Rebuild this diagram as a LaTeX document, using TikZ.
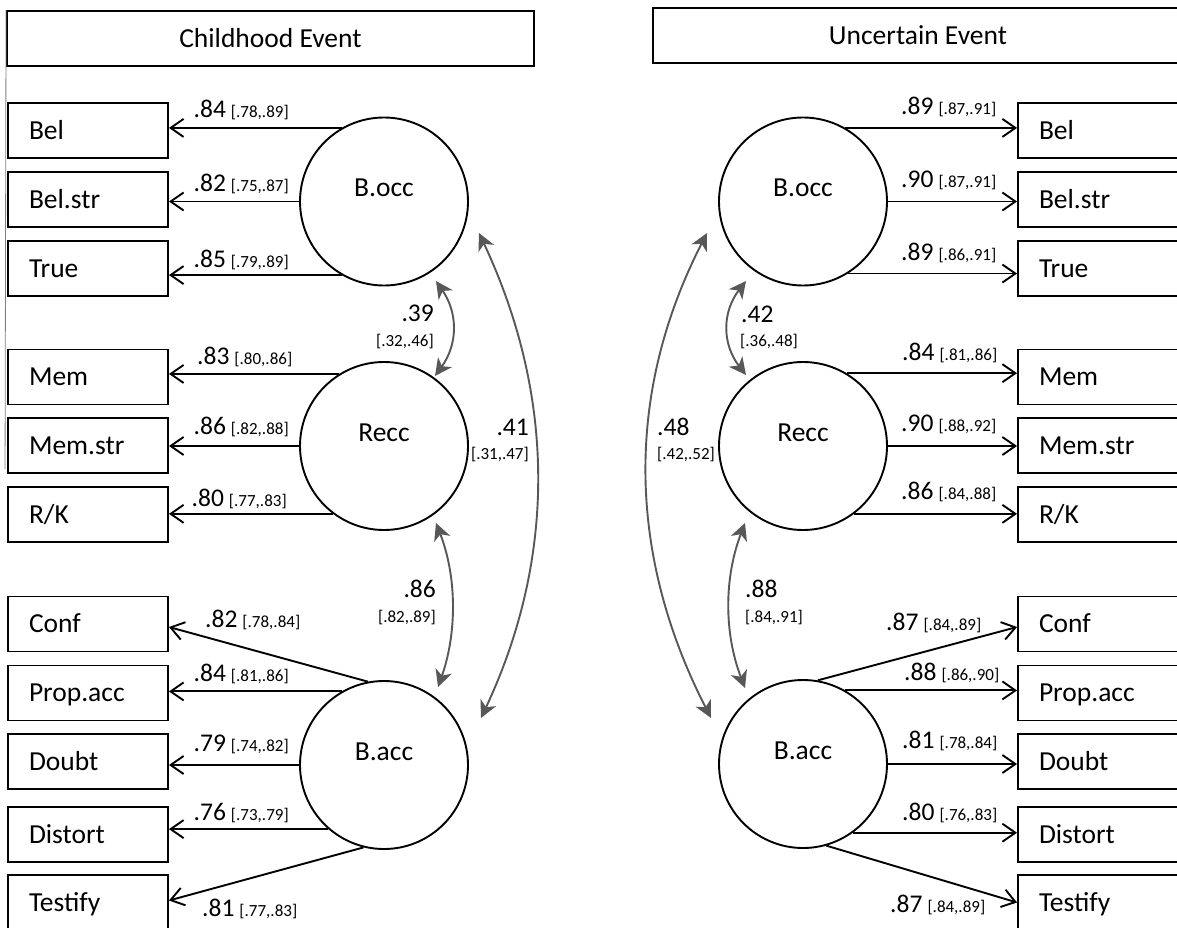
\documentclass[tikz,border=0pt]{standalone}
\usepackage{fontspec}
\setmainfont{Carlito}
\usetikzlibrary{arrows.meta,calc}
\newcommand{\loadlab}[2]{{\fontsize{25.5}{29}\selectfont #1}\hspace{5pt}{\fontsize{17}{20}\selectfont #2}}
\newcommand{\corrval}[1]{{\fontsize{25.5}{29}\selectfont #1}}
\newcommand{\corrci}[1]{{\fontsize{17}{20}\selectfont #1}}
\definecolor{corrgray}{RGB}{88,88,88}
\tikzset{
  obsbox/.style={draw, line width=1.9pt, minimum width=160pt, minimum height=55pt,
    inner xsep=21pt, inner ysep=0pt, text width=118pt, align=left,
    text height=17.5pt, text depth=0pt, font=\fontsize{27.5}{31}\selectfont},
  titlebox/.style={draw, line width=1.9pt, minimum height=55pt, inner sep=0pt,
    text height=17.5pt, text depth=0pt, font=\fontsize{27.5}{31}\selectfont},
  latent/.style={draw, circle, line width=1.9pt, minimum size=168pt, inner sep=0pt,
    text height=18pt, text depth=28pt, font=\fontsize{27.5}{31}\selectfont},
  load/.style={line width=1.9pt, -{Straight Barb[length=13pt,width=18pt,line width=1.9pt]}},
  corr/.style={line width=1.9pt, corrgray,
    {Stealth[length=17pt,width=17pt,inset=5pt]}-{Stealth[length=17pt,width=17pt,inset=5pt]}},
  labw/.style={inner sep=0pt, anchor=base west},
  labe/.style={inner sep=0pt, anchor=base east}
}
\begin{document}
\begin{tikzpicture}[x=1pt,y=-1pt]
\useasboundingbox (0,0) rectangle (1177,928);
\fill[white] (0,0) rectangle (1177,928);

% titles
\node[titlebox, minimum width=527pt] (ltitle) at (270.5,38.5) {Childhood Event};
\node[titlebox, minimum width=530pt] (rtitle) at (918,35.5) {Uncertain Event};
\draw[gray, line width=0.8pt] (ltitle.north west) -- ++(-1,459);

% left latent variables
\node[latent] (lbocc) at (384,201.5) {B.occ};
\node[latent] (lrecc) at (384,446) {Recc};
\node[latent] (lbacc) at (384,765) {B.acc};
% right latent variables
\node[latent] (rbocc) at (803,201.5) {B.occ};
\node[latent] (rrecc) at (803,446) {Recc};
\node[latent] (rbacc) at (803,764) {B.acc};

% left boxes
\node[obsbox] (lbel)  at (88,130.5) {Bel};
\node[obsbox] (lbels) at (88,199.5) {Bel.str};
\node[obsbox] (ltrue) at (88,268.5) {True};
\node[obsbox] (lmem)  at (88,377) {Mem};
\node[obsbox] (lmems) at (88,445.5) {Mem.str};
\node[obsbox] (lrk)   at (88,514.5) {R/K};
\node[obsbox] (lconf) at (88,624) {Conf};
\node[obsbox] (lprop) at (88,693) {Prop.acc};
\node[obsbox] (ldoub) at (88,761.5) {Doubt};
\node[obsbox] (ldist) at (88,834.5) {Distort};
\node[obsbox] (ltest) at (88,902.5) {Testify};
% right boxes
\node[obsbox] (rbel)  at (1098,130.5) {Bel};
\node[obsbox] (rbels) at (1098,199.5) {Bel.str};
\node[obsbox] (rtrue) at (1098,268.5) {True};
\node[obsbox] (rmem)  at (1098,377) {Mem};
\node[obsbox] (rmems) at (1098,445.5) {Mem.str};
\node[obsbox] (rrk)   at (1098,514.5) {R/K};
\node[obsbox] (rconf) at (1098,624) {Conf};
\node[obsbox] (rprop) at (1098,693) {Prop.acc};
\node[obsbox] (rdoub) at (1098,761.5) {Doubt};
\node[obsbox] (rdist) at (1098,834.5) {Distort};
\node[obsbox] (rtest) at (1098,902.5) {Testify};

% left loadings
\draw[load] (lbocc.120) -- (lbocc.120 -| lbel.east);
\draw[load] (lbocc.180) -- (lbocc.180 -| lbels.east);
\draw[load] (lbocc.240) -- (lbocc.240 -| ltrue.east);
\draw[load] (lrecc.122) -- (lrecc.122 -| lmem.east);
\draw[load] (lrecc.180) -- (lrecc.180 -| lmems.east);
\draw[load] (lrecc.233) -- (lrecc.233 -| lrk.east);
\draw[load] (lbacc.101) -- ($(lconf.east)+(0,3)$);
\draw[load] (lbacc.120) -- (lbacc.120 -| lprop.east);
\draw[load] (lbacc.180) -- (lbacc.180 -| ldoub.east);
\draw[load] (lbacc.229) -- (lbacc.229 -| ldist.east);
\draw[load] (lbacc.256) -- ($(ltest.east)+(0,-2)$);
% right loadings
\draw[load] (rbocc.60) -- (rbocc.60 -| rbel.west);
\draw[load] (rbocc.0) -- (rbocc.0 -| rbels.west);
\draw[load] (rbocc.-58) -- (rbocc.-58 -| rtrue.west);
\draw[load] (rrecc.59) -- (rrecc.59 -| rmem.west);
\draw[load] (rrecc.0) -- (rrecc.0 -| rmems.west);
\draw[load] (rrecc.-53) -- (rrecc.-53 -| rrk.west);
\draw[load] (rbacc.80) -- ($(rconf.west)+(0,3)$);
\draw[load] (rbacc.60) -- (rbacc.60 -| rprop.west);
\draw[load] (rbacc.0) -- (rbacc.0 -| rdoub.west);
\draw[load] (rbacc.-54) -- (rbacc.-54 -| rdist.west);
\draw[load] (rbacc.-74) -- (rtest.west);

% left loading labels
\node[labw] (l1) at (193.5,118) {\loadlab{.84}{[.78,.89]}};
\node[labw] (l2) at (193.5,192) {\loadlab{.82}{[.75,.87]}};
\node[labw] (l3) at (193.5,267) {\loadlab{.85}{[.79,.89]}};
\node[labw] (l4) at (197,364) {\loadlab{.83}{[.80,.86]}};
\node[labw] (l5) at (193.5,434) {\loadlab{.86}{[.82,.88]}};
\node[labw] (l6) at (191.5,506) {\loadlab{.80}{[.77,.83]}};
\node[labw] (l7) at (205,627) {\loadlab{.82}{[.78,.84]}};
\node[labw] (l8) at (193.5,681) {\loadlab{.84}{[.81,.86]}};
\node[labw] (l9) at (193.5,751) {\loadlab{.79}{[.74,.82]}};
\node[labw] (l10) at (193.5,820) {\loadlab{.76}{[.73,.79]}};
\node[labw] (l11) at (202,916) {\loadlab{.81}{[.77,.83]}};
% right loading labels
\node[labw] (r1) at (901,115) {\loadlab{.89}{[.87,.91]}};
\node[labw] (r2) at (901,187) {\loadlab{.90}{[.87,.91]}};
\node[labw] (r3) at (901,260) {\loadlab{.89}{[.86,.91]}};
\node[labw] (r4) at (902,360) {\loadlab{.84}{[.81,.86]}};
\node[labw] (r5) at (901,431) {\loadlab{.90}{[.88,.92]}};
\node[labw] (r6) at (901,499) {\loadlab{.86}{[.84,.88]}};
\node[labw] (r7) at (886,630) {\loadlab{.87}{[.84,.89]}};
\node[labw] (r8) at (904,680) {\loadlab{.88}{[.86,.90]}};
\node[labw] (r9) at (902,748) {\loadlab{.81}{[.78,.84]}};
\node[labw] (r10) at (902,820) {\loadlab{.80}{[.76,.83]}};
\node[labw] (r11) at (890,912) {\loadlab{.87}{[.84,.89]}};

% left correlations
\draw[corr] ($(lbocc.center)+(52,79.5)$) .. controls +(22,32) and +(23,-32) .. ($(lrecc.center)+(51,-70)$);
\draw[corr] ($(lbocc.center)+(95,31.5)$) .. controls +(76,162) and +(76,-162) .. ($(lbacc.center)+(97,-47)$);
\draw[corr] ($(lrecc.center)+(52,77)$) .. controls +(21,54) and +(19,-54) .. ($(lbacc.center)+(54,-78)$);
\node[labe] (c39) at (434,321) {\corrval{.39}};
\node[labe] (c39b) at (434,346) {\corrci{[.32,.46]}};
\node[labe] (c41) at (529,435) {\corrval{.41}};
\node[labe] (c41b) at (529,459) {\corrci{[.31,.47]}};
\node[labe] (c86) at (436,597) {\corrval{.86}};
\node[labe] (c86b) at (436,622) {\corrci{[.82,.89]}};

% right correlations
\draw[corr] ($(rbocc.center)+(-57,79.5)$) .. controls +(-24,31) and +(-24,-31) .. ($(rrecc.center)+(-57,-71)$);
\draw[corr] ($(rbocc.center)+(-96,31.5)$) .. controls +(-83,162) and +(-83,-162) .. ($(rbacc.center)+(-92,-46)$);
\draw[corr] ($(rrecc.center)+(-58,77)$) .. controls +(-21,55) and +(-21,-55) .. ($(rbacc.center)+(-58,-76)$);
\node[labw] (c42) at (741,322) {\corrval{.42}};
\node[labw] (c42b) at (740,346) {\corrci{[.36,.48]}};
\node[labw] (c48) at (657,435) {\corrval{.48}};
\node[labw] (c48b) at (657,459) {\corrci{[.42,.52]}};
\node[labw] (c88) at (745,597) {\corrval{.88}};
\node[labw] (c88b) at (745,622) {\corrci{[.84,.91]}};
\end{tikzpicture}
\end{document}
